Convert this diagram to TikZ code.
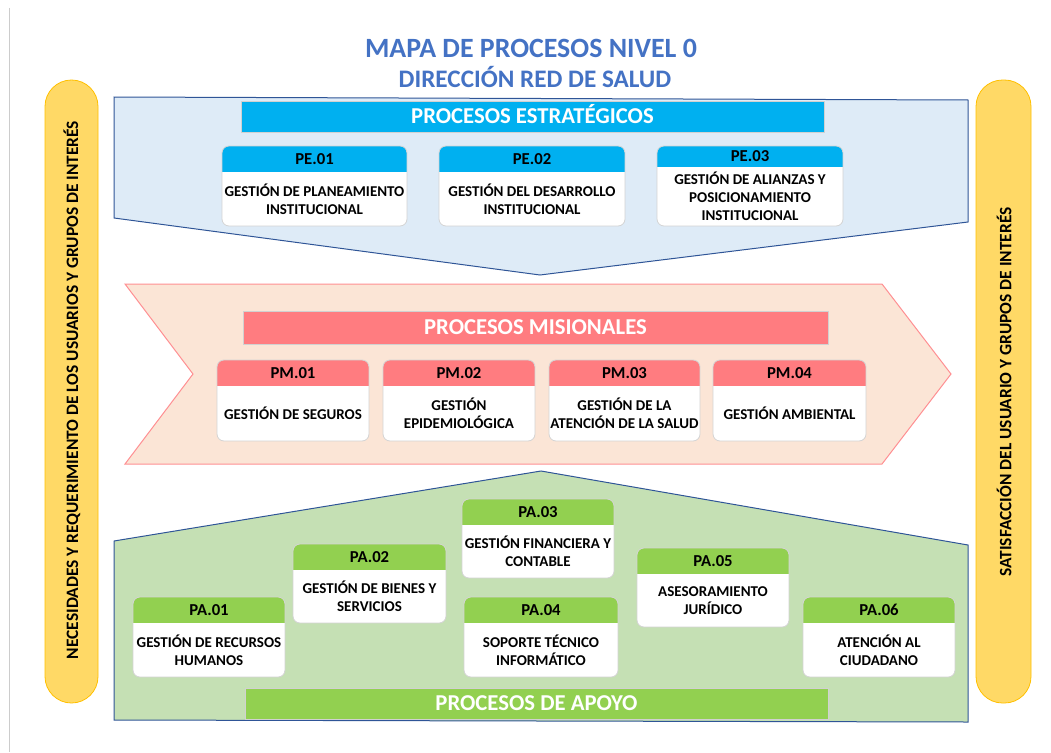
\documentclass[tikz,border=0pt]{standalone}
\usepackage{fontspec}
\setmainfont{Carlito}
\usepackage{xcolor}
\usepackage{tikz}

\definecolor{titleblue}{HTML}{4472C4}
\definecolor{edgeblue}{HTML}{2F5597}
\definecolor{estfill}{HTML}{DEEBF7}
\definecolor{esthdr}{HTML}{00B0F0}
\definecolor{misfill}{HTML}{FBE5D6}
\definecolor{misline}{HTML}{FF8F92}
\definecolor{mishdr}{HTML}{FF7C80}
\definecolor{apofill}{HTML}{C5E0B4}
\definecolor{apohdr}{HTML}{92D050}
\definecolor{sidefill}{HTML}{FFD966}
\definecolor{sideline}{HTML}{FFC000}
\definecolor{boxline}{HTML}{D4D4D4}

\tikzset{
  titletext/.style={text=titleblue, anchor=base, font=\bfseries},
  secbar/.style={draw=black!18, line width=0.8pt, text=white, inner sep=0pt,
    text height=14.6pt, text depth=0pt, font=\fontsize{22.7}{25}\selectfont\bfseries},
  sidebar/.style={fill=sidefill, draw=sideline, line width=0.8pt, rounded corners=26.5pt},
  sidetext/.style={rotate=90, font=\fontsize{17.4}{19}\selectfont\bfseries},
  code/.style={text height=10.8pt, text depth=0pt, inner sep=0pt,
    font=\fontsize{16.7}{18}\selectfont\bfseries},
  desc/.style={align=center, inner sep=0pt, font=\fontsize{15}{18}\selectfont\bfseries},
}

% name, x1, y1, x2, y2, header bottom, header colour, code, text
\newcommand{\procbox}[9]{%
  \begin{scope}
    \clip[rounded corners=7pt] (#2,#3) rectangle (#4,#5);
    \fill[white] (#2,#3) rectangle (#4,#5);
    \fill[#7] (#2,#3) rectangle (#4,#6);
  \end{scope}
  \draw[boxline, line width=0.8pt, rounded corners=7pt] (#2,#3) rectangle (#4,#5);
  \node[code] (#1) at ({(#2+#4)/2},{(#3+#6)/2}) {#8};
  \node[desc] (#1t) at ({(#2+#4)/2},{(#6+#5)/2}) {#9};
}

\begin{document}
\begin{tikzpicture}[x=1pt, y=-1pt]
  \useasboundingbox (0,0) rectangle (1051,752);
  \draw[black!20, line width=1pt] (9,8) -- (9,752);

  % title
  \node[titletext, font=\fontsize{27.9}{30}\selectfont\bfseries] (title) at (531,57) {MAPA DE PROCESOS NIVEL 0};
  \node[titletext, font=\fontsize{25.2}{27}\selectfont\bfseries] (subtitle) at (535,87) {DIRECCIÓN RED DE SALUD};

  % side bars
  \draw[sidebar] (45,80) rectangle (98,703);
  \node[sidetext] (need) at (72,390) {NECESIDADES Y REQUERIMIENTO DE LOS USUARIOS Y GRUPOS DE INTERÉS};
  \draw[sidebar] (976,80) rectangle (1031,703);
  \node[sidetext] (satis) at (1004,392) {SATISFACCIÓN DEL USUARIO Y GRUPOS DE INTERÉS};

  % procesos estrategicos
  \draw[fill=estfill, draw=edgeblue, line width=1pt] (114,97) -- (968,100) -- (968,222) -- (540,275) -- (114,218) -- cycle;
  \node[secbar, fill=esthdr, minimum width=583pt, minimum height=31pt] (est) at (532.5,116.5) {PROCESOS ESTRATÉGICOS};
  \procbox{pe1}{222}{146}{407}{226}{172}{esthdr}{PE.01}{GESTIÓN DE PLANEAMIENTO\\INSTITUCIONAL}
  \procbox{pe2}{439}{146}{625}{226}{172}{esthdr}{PE.02}{GESTIÓN DEL DESARROLLO\\INSTITUCIONAL}
  \procbox{pe3}{657}{146}{843}{226}{167}{esthdr}{PE.03}{GESTIÓN DE ALIANZAS Y\\POSICIONAMIENTO\\INSTITUCIONAL}

  % procesos misionales
  \draw[fill=misfill, draw=misline, line width=1pt] (125,284) -- (882,284) -- (951,374) -- (882,464) -- (125,464) -- (193,374) -- cycle;
  \node[secbar, fill=mishdr, minimum width=585pt, minimum height=33pt] (mis) at (535.5,327.5) {PROCESOS MISIONALES};
  \procbox{pm1}{217}{360}{369}{441}{386}{mishdr}{PM.01}{GESTIÓN DE SEGUROS}
  \procbox{pm2}{383}{360}{535}{441}{386}{mishdr}{PM.02}{GESTIÓN\\EPIDEMIOLÓGICA}
  \procbox{pm3}{549}{360}{700}{441}{386}{mishdr}{PM.03}{GESTIÓN DE LA\\ATENCIÓN DE LA SALUD}
  \procbox{pm4}{713}{360}{866}{441}{386}{mishdr}{PM.04}{GESTIÓN AMBIENTAL}

  % procesos de apoyo
  \draw[fill=apofill, draw=edgeblue, line width=1pt] (541,471) -- (968,545) -- (968,722) -- (114,720) -- (114,541) -- cycle;
  \node[secbar, fill=apohdr, minimum width=583pt, minimum height=31pt] (apo) at (536.5,703.5) {PROCESOS DE APOYO};
  \procbox{pa1}{133}{597}{285}{677}{623}{apohdr}{PA.01}{GESTIÓN DE RECURSOS\\HUMANOS}
  \procbox{pa2}{293}{544}{446}{623}{570}{apohdr}{PA.02}{GESTIÓN DE BIENES Y\\SERVICIOS}
  \procbox{pa3}{462}{499}{614}{578}{525}{apohdr}{PA.03}{GESTIÓN FINANCIERA Y\\CONTABLE}
  \procbox{pa4}{464}{597}{618}{677}{623}{apohdr}{PA.04}{SOPORTE TÉCNICO\\INFORMÁTICO}
  \procbox{pa5}{637}{548}{789}{627}{574}{apohdr}{PA.05}{ASESORAMIENTO\\JURÍDICO}
  \procbox{pa6}{803}{597}{955}{677}{623}{apohdr}{PA.06}{ATENCIÓN AL\\CIUDADANO}
\end{tikzpicture}
\end{document}
